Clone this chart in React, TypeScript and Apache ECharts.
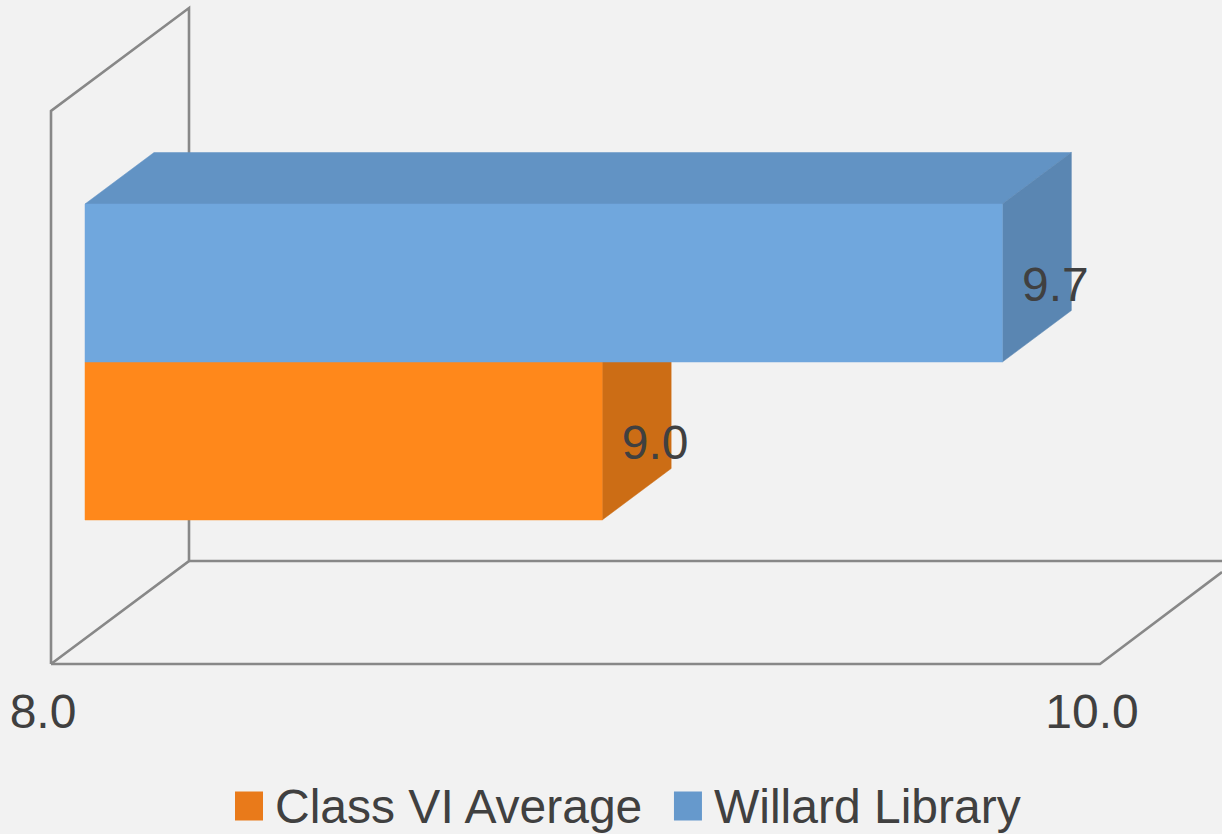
import React, { useEffect, useRef } from "react";
import * as echarts from "echarts";

const categories = [""];
const seriesNames = ["Class VI Average", "Willard Library"];
const classVIValues = [8.986];
const willardValues = [9.749];
const axisMin = 8;
const axisMax = 10;
const axisInterval = 2;

const FONT = "Liberation Sans";
const TEXT = "#404040";
const FRAME = "#888888";
const DEPTH_X = 69;
const DEPTH_Y = -51.5;
const PLANE_SHIFT = 42;
const BAR_SHARE = 158 / 552;

function makeBar(front: string, top: string, side: string, sign: number) {
  return (params: any, api: any) => {
    const value = api.value(0);
    const base = api.coord([axisMin, 0]);
    const end = api.coord([value, 0]);
    const band = api.size([0, 1])[1];
    const h = band * BAR_SHARE;
    const x0 = base[0] + PLANE_SHIFT;
    const x1 = end[0] + PLANE_SHIFT;
    const y0 = sign < 0 ? base[1] - h : base[1];
    const y1 = y0 + h;
    const dx = DEPTH_X;
    const dy = DEPTH_Y;
    const poly = (points: number[][], fill: string) => ({
      type: "polygon",
      shape: { points },
      style: { fill, stroke: fill, lineWidth: 0.5 },
    });
    return {
      type: "group",
      children: [
        poly([[x0, y0], [x0 + dx, y0 + dy], [x1 + dx, y0 + dy], [x1, y0]], top),
        poly([[x1, y0], [x1 + dx, y0 + dy], [x1 + dx, y1 + dy], [x1, y1]], side),
        poly([[x0, y0], [x1, y0], [x1, y1], [x0, y1]], front),
        {
          type: "text",
          z2: 10,
          style: {
            x: x1 + 53,
            y: (y0 + y1) / 2 + 1,
            text: Number(value).toFixed(1),
            fill: TEXT,
            font: `48px "${FONT}"`,
            align: "center",
            verticalAlign: "middle",
          },
        },
      ],
    };
  };
}

export default function App() {
  const ref = useRef<HTMLDivElement>(null);
  useEffect(() => {
    document.body.style.margin = "0";
    const chart = echarts.init(ref.current!, null, { renderer: "svg" });
    const frameLine = (points: number[][]) => ({
      type: "polyline",
      z: 0,
      shape: { points },
      style: { stroke: FRAME, lineWidth: 2.6, fill: "none" },
    });
    chart.setOption({
      animation: false,
      backgroundColor: "#f2f2f2",
      textStyle: { fontFamily: FONT },
      graphic: [
        frameLine([[51, 664], [51, 111], [189, 8], [189, 561], [51, 664]]),
        frameLine([[189, 561], [1222, 561]]),
        frameLine([[51, 664], [1100, 664], [1222, 572]]),
      ],
      grid: { left: 43, width: 1049, top: 86, height: 552 },
      xAxis: {
        type: "value",
        min: axisMin,
        max: axisMax,
        interval: axisInterval,
        axisLine: { show: false },
        axisTick: { show: false },
        splitLine: { show: false },
        axisLabel: {
          margin: 49,
          fontSize: 48,
          fontFamily: FONT,
          color: TEXT,
          formatter: (v: number) => v.toFixed(1),
        },
      },
      yAxis: {
        type: "category",
        data: categories,
        axisLine: { show: false },
        axisTick: { show: false },
        axisLabel: { show: false },
        splitLine: { show: false },
      },
      legend: {
        left: 230,
        top: 777,
        itemWidth: 28,
        itemHeight: 29,
        itemGap: 29,
        icon: "rect",
        data: seriesNames,
        textStyle: {
          fontSize: 48,
          fontFamily: FONT,
          color: TEXT,
          padding: [0, 0, 0, 7],
        },
      },
      series: [
        {
          type: "custom",
          name: seriesNames[0],
          z: 5,
          itemStyle: { color: "#E97A1A" },
          data: classVIValues.map((v, i) => [v, i]),
          encode: { x: 0, y: 1 },
          renderItem: makeBar("#FF881B", "#CC6D15", "#CC6D15", 1),
        },
        {
          type: "custom",
          name: seriesNames[1],
          z: 6,
          itemStyle: { color: "#6699CC" },
          data: willardValues.map((v, i) => [v, i]),
          encode: { x: 0, y: 1 },
          renderItem: makeBar("#70A7DD", "#6293C4", "#5A86B2", -1),
        },
      ],
    });
    return () => chart.dispose();
  }, []);
  return <div ref={ref} style={{ width: 1222, height: 834 }} />;
}
